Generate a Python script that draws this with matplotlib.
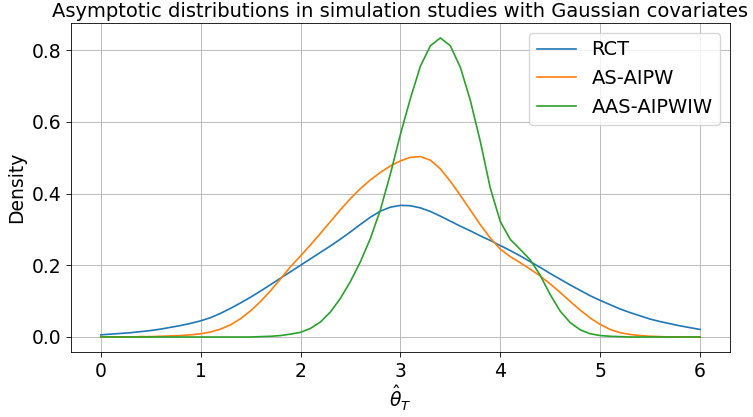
import numpy as np
import matplotlib
matplotlib.use("Agg")
import matplotlib.pyplot as plt

# values, x grid step 0.1 from 0 to 6
theta = np.round(np.arange(0, 61) * 0.1, 1)

rct = [0.006, 0.008, 0.010, 0.012, 0.015, 0.018, 0.022, 0.027, 0.032, 0.038,
       0.045, 0.054, 0.066, 0.080, 0.095, 0.111, 0.128, 0.146, 0.164, 0.182,
       0.200, 0.218, 0.236, 0.254, 0.273, 0.293, 0.314, 0.334, 0.351, 0.362,
       0.367, 0.366, 0.360, 0.350, 0.337, 0.323, 0.309, 0.296, 0.282, 0.269,
       0.255, 0.241, 0.226, 0.210, 0.194, 0.177, 0.161, 0.145, 0.130, 0.115,
       0.102, 0.090, 0.078, 0.068, 0.059, 0.050, 0.043, 0.037, 0.031, 0.026,
       0.021]

as_aipw = [0.000, 0.000, 0.000, 0.000, 0.001, 0.001, 0.002, 0.003, 0.004, 0.006,
           0.009, 0.014, 0.022, 0.034, 0.051, 0.073, 0.099, 0.129, 0.162, 0.196,
           0.226, 0.257, 0.289, 0.322, 0.355, 0.386, 0.414, 0.438, 0.459, 0.477,
           0.491, 0.501, 0.503, 0.493, 0.469, 0.434, 0.395, 0.354, 0.313, 0.276,
           0.245, 0.224, 0.207, 0.189, 0.170, 0.148, 0.124, 0.099, 0.075, 0.053,
           0.035, 0.021, 0.012, 0.007, 0.004, 0.002, 0.001, 0.000, 0.000, 0.000,
           0.000]

aas_aipwiw = [0.000, 0.000, 0.000, 0.000, 0.000, 0.000, 0.000, 0.000, 0.000, 0.000,
              0.000, 0.000, 0.000, 0.000, 0.000, 0.000, 0.001, 0.002, 0.004, 0.008,
              0.013, 0.024, 0.042, 0.070, 0.108, 0.155, 0.210, 0.275, 0.355, 0.455,
              0.565, 0.665, 0.755, 0.812, 0.834, 0.812, 0.752, 0.660, 0.545, 0.415,
              0.322, 0.272, 0.244, 0.215, 0.172, 0.118, 0.072, 0.040, 0.020, 0.009,
              0.004, 0.002, 0.001, 0.000, 0.000, 0.000, 0.000, 0.000, 0.000, 0.000,
              0.000]

labels = ["RCT", "AS-AIPW", "AAS-AIPWIW"]

plt.rcParams["font.size"] = 13.5

fig = plt.figure(figsize=(7.53, 4.17), dpi=100)
ax = fig.add_axes([0.094, 0.156, 0.8755, 0.789])

for series, name in zip([rct, as_aipw, aas_aipwiw], labels):
    ax.plot(theta, series, label=name, linewidth=1.2)

ax.set_title("Asymptotic distributions in simulation studies with Gaussian covariates",
             fontsize=14, pad=4)
ax.set_xlabel(r"$\hat{\theta}_T$", fontsize=13.5, labelpad=2)
ax.set_ylabel("Density", fontsize=13.5)
ax.set_yticks([0.0, 0.2, 0.4, 0.6, 0.8])
ax.grid(True, linewidth=0.6)
for s in ax.spines.values():
    s.set_linewidth(0.6)
ax.tick_params(width=0.6)
ax.legend(loc="upper right", fontsize=14)

fig.savefig("out.png", dpi=100)
